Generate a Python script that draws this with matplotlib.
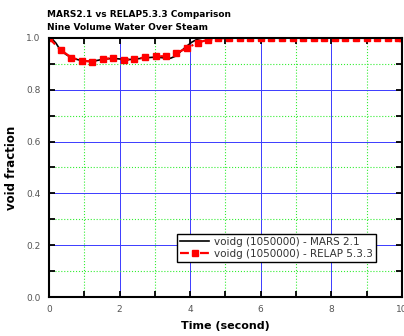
import numpy as np
import matplotlib
matplotlib.use("Agg")
import matplotlib.pyplot as plt
from matplotlib.ticker import MultipleLocator, FormatStrFormatter

# MARS 2.1 result
t_mars = [0.0, 0.1, 0.2, 0.33, 0.5, 0.64, 0.8, 0.94, 1.1, 1.22, 1.4, 1.52, 1.7,
          1.82, 2.0, 2.13, 2.3, 2.41, 2.6, 2.72, 2.9, 3.02, 3.2, 3.31, 3.45,
          3.59, 3.75, 3.9, 4.05, 4.2, 4.35, 4.5, 5.0, 10.0]
v_mars = [1.0, 0.995, 0.98, 0.952, 0.935, 0.924, 0.917, 0.912, 0.910, 0.910,
          0.914, 0.918, 0.920, 0.921, 0.919, 0.917, 0.917, 0.918, 0.921, 0.923,
          0.925, 0.926, 0.924, 0.922, 0.922, 0.930, 0.950, 0.968, 0.984, 0.995,
          1.0, 1.0, 1.0, 1.0]

# RELAP 5.3.3 result
t_relap = [0.0, 0.33, 0.64, 0.94, 1.22, 1.52, 1.82, 2.13, 2.41, 2.72, 3.02,
           3.31, 3.59, 3.9, 4.21, 4.51, 4.8, 5.1, 5.4, 5.7, 6.0, 6.3, 6.6,
           6.9, 7.2, 7.5, 7.8, 8.1, 8.4, 8.7, 9.0, 9.3, 9.6, 9.9, 10.0]
v_relap = [1.0, 0.954, 0.924, 0.912, 0.909, 0.919, 0.922, 0.915, 0.918, 0.925,
           0.930, 0.929, 0.941, 0.960, 0.982, 0.993, 0.998, 1.0, 1.0, 1.0,
           1.0, 1.0, 1.0, 1.0, 1.0, 1.0, 1.0, 1.0, 1.0,
           1.0, 1.0, 1.0, 1.0, 1.0, 1.0]

fig = plt.figure(figsize=(4.04, 3.36), dpi=100)
ax = fig.add_axes([0.121, 0.116, 0.874, 0.771])

ax.plot(t_mars, v_mars, color='black', lw=1.2,
        label='voidg (1050000) - MARS 2.1', zorder=2.2)
ax.plot(t_relap, v_relap, color='red', lw=1.6, linestyle=(0, (4, 2, 1, 2)),
        marker='s', markersize=4.5, label='voidg (1050000) - RELAP 5.3.3',
        zorder=2.3)

ax.set_xlim(0, 10)
ax.set_ylim(0, 1.0)
ax.xaxis.set_major_locator(MultipleLocator(2))
ax.xaxis.set_minor_locator(MultipleLocator(1))
ax.yaxis.set_major_locator(MultipleLocator(0.2))
ax.yaxis.set_minor_locator(MultipleLocator(0.1))
ax.yaxis.set_major_formatter(FormatStrFormatter('%.1f'))

ax.grid(which='major', color='#3b3bff', lw=0.7, ls='-')
ax.grid(which='minor', color='#33ee33', lw=0.8, ls=':')
ax.set_axisbelow(True)

ax.tick_params(which='both', direction='in', top=True, right=True,
               length=4, width=1.3, color='black',
               labelsize=6.5, labelcolor='#555555', pad=6)
for s in ax.spines.values():
    s.set_linewidth(1.5)
    s.set_zorder(3)

ax.set_xlabel('Time (second)', fontsize=8, fontweight='bold', labelpad=5)
ax.set_ylabel('void fraction', fontsize=8.5, fontweight='bold', labelpad=6)

fig.text(0.116, 0.950, 'MARS2.1 vs RELAP5.3.3 Comparison', fontsize=6.5,
         fontweight='bold')
fig.text(0.116, 0.911, 'Nine Volume Water Over Steam', fontsize=6.5,
         fontweight='bold')

leg = ax.legend(loc='lower left', bbox_to_anchor=(0.363, 0.135), fontsize=7.5,
                fancybox=False, edgecolor='black', framealpha=1,
                handlelength=2.8, borderpad=0.3, labelspacing=0.2,
                borderaxespad=0, handletextpad=0.4)
leg.get_frame().set_linewidth(1.0)
for txt in leg.get_texts():
    txt.set_color('#333333')

fig.savefig('out.png', dpi=100)
